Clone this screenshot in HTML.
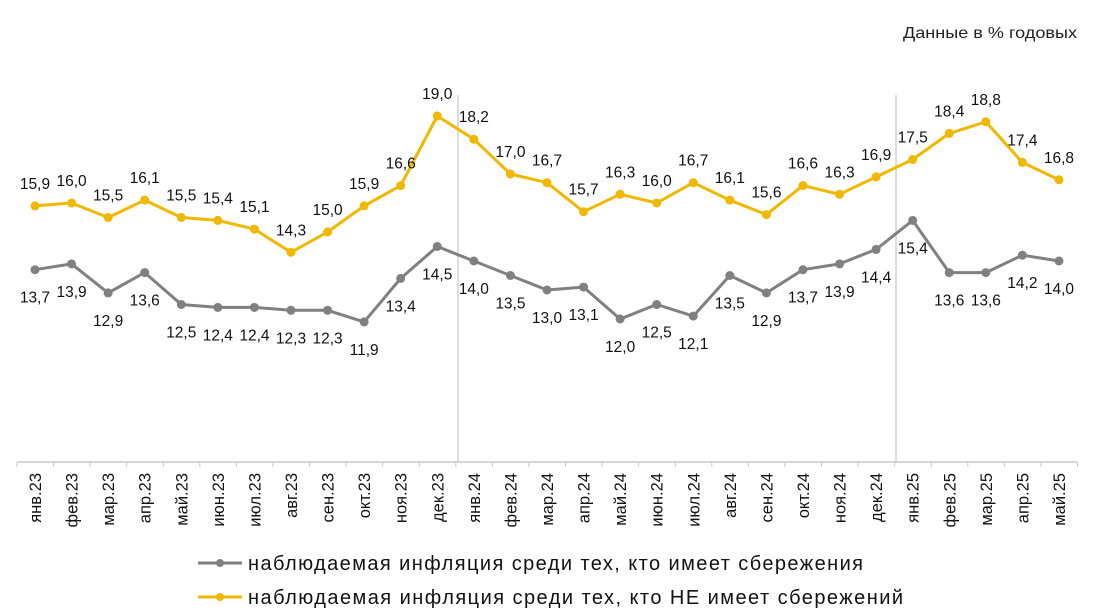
<!DOCTYPE html><html><head><meta charset="utf-8"><style>body{margin:0;background:#fff}svg{display:block;font-family:"Liberation Sans",sans-serif}</style></head><body>
<svg width="1108" height="613" xmlns="http://www.w3.org/2000/svg">
<text x="903" y="38" font-size="16" textLength="174" lengthAdjust="spacingAndGlyphs" fill="#222">Данные в % годовых</text>
<line x1="458" y1="95" x2="458" y2="462" stroke="#bbb" stroke-width="1"/>
<line x1="896" y1="95" x2="896" y2="462" stroke="#bbb" stroke-width="1"/>
<line x1="17" y1="462" x2="1077" y2="462" stroke="#c8c8c8" stroke-width="1.5"/>
<g id="g"></g>
<line x1="198" y1="563" x2="242" y2="563" stroke="#808080" stroke-width="3"/><circle cx="220" cy="563" r="4" fill="#808080"/>
<text x="248" y="570" font-size="20" textLength="615" fill="#111">наблюдаемая инфляция среди тех, кто имеет сбережения</text>
<line x1="198" y1="597" x2="242" y2="597" stroke="#f0b800" stroke-width="3"/><circle cx="220" cy="597" r="4" fill="#f0b800"/>
<text x="248" y="604" font-size="20" textLength="655" fill="#111">наблюдаемая инфляция среди тех, кто НЕ имеет сбережений</text>
</svg>
<script>
var m=["янв.23","фев.23","мар.23","апр.23","май.23","июн.23","июл.23","авг.23","сен.23","окт.23","ноя.23","дек.23","янв.24","фев.24","мар.24","апр.24","май.24","июн.24","июл.24","авг.24","сен.24","окт.24","ноя.24","дек.24","янв.25","фев.25","мар.25","апр.25","май.25"];
var gr=[13.7,13.9,12.9,13.6,12.5,12.4,12.4,12.3,12.3,11.9,13.4,14.5,14.0,13.5,13.0,13.1,12.0,12.5,12.1,13.5,12.9,13.7,13.9,14.4,15.4,13.6,13.6,14.2,14.0];
var ye=[15.9,16.0,15.5,16.1,15.5,15.4,15.1,14.3,15.0,15.9,16.6,19.0,18.2,17.0,16.7,15.7,16.3,16.0,16.7,16.1,15.6,16.6,16.3,16.9,17.5,18.4,18.8,17.4,16.8];
function X(i){return 35+i*36.57}function Y(v){return 116+(19-v)*29}
var s="";
for(var i=0;i<=29;i++){var tx=17+i*36.57;s+='<line x1="'+tx+'" y1="462" x2="'+tx+'" y2="467" stroke="#c8c8c8"/>';}
for(var i=0;i<29;i++){s+='<text transform="translate('+(X(i)+6)+',473) rotate(-90)" font-size="16.5" text-anchor="end" fill="#111">'+m[i]+'</text>';}
function ser(d,c,dy){var p=d.map(function(v,i){return X(i)+","+Y(v)}).join(" ");
s+='<polyline points="'+p+'" fill="none" stroke="'+c+'" stroke-width="3" stroke-linejoin="round"/>';
d.forEach(function(v,i){s+='<circle cx="'+X(i)+'" cy="'+Y(v)+'" r="4.5" fill="'+c+'"/>';
s+='<text x="'+X(i)+'" y="'+(Y(v)+dy)+'" font-size="15.5" text-anchor="middle" fill="#111">'+v.toFixed(1).replace(".",",")+'</text>';});}
ser(gr,"#808080",33);ser(ye,"#f0b800",-17);
document.getElementById("g").innerHTML=s;
</script>
</body></html>
